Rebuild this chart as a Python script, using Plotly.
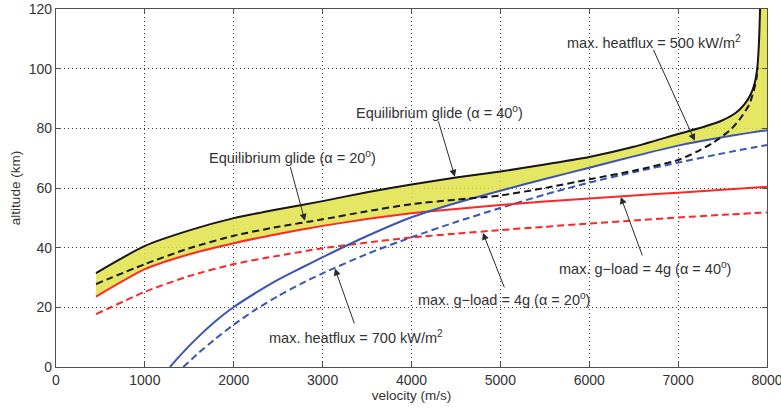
import numpy as np
import plotly.graph_objects as go

# ---------------- data ----------------
v_grid = [450, 1000, 1500, 2000, 2500, 3000, 3500, 4000, 4500, 5000,
          5500, 6000, 6500, 7000, 7500, 8000]

# max. g-load = 4g (alpha = 40 deg)  -- red solid
gload40 = [23.6, 32.8, 37.8, 41.5, 44.6, 47.3, 49.6, 51.5, 53.0, 54.3,
           55.5, 56.5, 57.5, 58.4, 59.4, 60.4]
# max. g-load = 4g (alpha = 20 deg)  -- red dashed
gload20 = [17.7, 25.2, 30.5, 34.5, 37.3, 39.8, 41.7, 43.4, 44.7, 45.9,
           47.0, 48.1, 49.1, 50.1, 51.0, 51.8]

# equilibrium glide (alpha = 40 deg) -- black solid
eq40_v = [450, 1000, 1500, 2000, 2500, 3000, 3500, 4000, 4500, 5000, 5500,
          6000, 6500, 7000, 7300, 7500, 7650, 7750, 7820, 7860, 7890, 7905,
          7915, 7922]
eq40 = [31.5, 40.6, 45.8, 49.9, 52.9, 55.6, 58.6, 61.2, 63.5, 65.5, 67.9,
        70.4, 73.8, 78.1, 80.6, 82.7, 85.2, 88.2, 91.6, 95.0, 100.0, 106.0,
        113.0, 120.0]

# equilibrium glide (alpha = 20 deg) -- black dashed
eq20_v = [450, 1000, 1500, 2000, 2500, 3000, 3500, 4000, 4500, 5000, 5500,
          6000, 6500, 7000, 7200, 7400, 7600, 7700, 7800, 7850, 7880, 7895]
eq20 = [27.8, 34.5, 39.8, 44.0, 47.0, 49.5, 52.2, 54.6, 56.1, 57.5, 60.0,
        62.9, 65.8, 69.4, 72.0, 75.3, 79.8, 83.3, 88.0, 92.5, 96.5, 100.5]

# max. heatflux = 500 kW/m2 -- blue solid
hf500_v = [1282, 1400, 1600, 1800, 2000, 2250, 2500, 2750, 3000, 3500, 4000,
           4500, 5000, 5500, 6000, 6500, 7000, 7500, 8000]
hf500 = [0.0, 4.0, 10.1, 15.5, 20.1, 24.9, 29.3, 33.1, 36.8, 43.9, 50.2,
         55.0, 59.1, 63.0, 66.8, 70.6, 74.2, 77.0, 79.4]

# max. heatflux = 700 kW/m2 -- blue dashed
hf700_v = [1432, 1600, 1800, 2000, 2250, 2500, 2750, 3000, 3500, 4000,
           4500, 5000, 5500, 6000, 6500, 7000, 7500, 8000]
hf700 = [0.0, 4.6, 9.6, 14.2, 19.3, 23.8, 27.8, 31.4, 37.9, 43.5,
         48.6, 53.3, 57.8, 61.8, 65.3, 68.5, 71.6, 74.4]

x_ticks = [0, 1000, 2000, 3000, 4000, 5000, 6000, 7000, 8000]
y_ticks = [0, 20, 40, 60, 80, 100, 120]

# ---------------- styles ----------------
RED = "#FF2626"
BLUE = "#3A55B4"
BLACK = "#151515"
FILL = "rgba(226,226,76,0.86)"
TXT = "#333333"
FONT = "Liberation Sans, Arial, sans-serif"
DASH = "7px,4px"

# ---------------- corridor fill (between eq-glide 40 and max(g-load 40, heatflux 500)) ----
rv, ra = np.array(v_grid, float), np.array(gload40, float)
bv, ba = np.array(hf500_v, float), np.array(hf500, float)
red_at_b = np.interp(bv, rv, ra)
d = ba - red_at_b
i = int(np.where((d[:-1] < 0) & (d[1:] >= 0))[0][0])
t = d[i] / (d[i] - d[i + 1])
vc = bv[i] + t * (bv[i + 1] - bv[i])
ac = red_at_b[i] + t * (red_at_b[i + 1] - red_at_b[i])
low_v = list(rv[rv < vc]) + [vc] + list(bv[bv > vc])
low_a = list(ra[rv < vc]) + [ac] + list(ba[bv > vc])
up_v = list(eq40_v) + [8000]
up_a = [min(a, 120) for a in eq40] + [120]
poly_v = up_v + low_v[::-1]
poly_a = up_a + low_a[::-1]

fig = go.Figure()
fig.add_trace(go.Scatter(x=poly_v, y=poly_a, fill="toself", fillcolor=FILL,
                         line=dict(width=0), mode="lines", hoverinfo="skip",
                         showlegend=False))

def line(xv, yv, color, dash=None):
    fig.add_trace(go.Scatter(x=xv, y=yv, mode="lines", showlegend=False,
                             line=dict(color=color, width=2, dash=dash,
                                       shape="spline", smoothing=0.6)))

line(v_grid, gload20, RED, DASH)
line(hf700_v, hf700, BLUE, DASH)
line(v_grid, gload40, RED)
line(hf500_v, hf500, BLUE)
line(eq20_v, eq20, BLACK, DASH)
line(eq40_v, eq40, BLACK)

# ---------------- annotations ----------------
labels = [
    ("Equilibrium glide (α = 40<sup>o</sup>)", 4319, 85.6, 4297, 82.9, 4488, 63.8),
    ("Equilibrium glide (α = 20<sup>o</sup>)", 2666, 70.5, 2632, 67.5, 2801, 49.0),
    ("max. heatflux = 500 kW/m<sup>2</sup>", 6732, 108.8, 6715, 106.8, 7188, 75.8),
    ("max. g−load = 4g (α = 40<sup>o</sup>)", 6625, 33.2, 6603, 36.9, 6355, 57.0),
    ("max. g−load = 4g (α = 20<sup>o</sup>)", 5045, 22.8, 5051, 26.2, 4803, 45.0),
    ("max. heatflux = 700 kW/m<sup>2</sup>", 3380, 10.0, 3363, 14.1, 3138, 33.0),
]
for txt, tx, ty, axv, ayv, hx, hy in labels:
    fig.add_annotation(x=tx, y=ty, text=txt, showarrow=False,
                       font=dict(family=FONT, size=14.5, color=TXT))
    fig.add_annotation(x=hx, y=hy, ax=axv, ay=ayv, axref="x", ayref="y",
                       text="", showarrow=True, arrowhead=2, arrowsize=1.4,
                       arrowwidth=1, arrowcolor="#2a2a2a", standoff=0)

axis_common = dict(showline=True, linecolor="#505050", linewidth=1.3,
                   mirror="ticks", ticks="inside", ticklen=5,
                   tickcolor="#505050", showgrid=True, gridcolor="#3a3a3a",
                   gridwidth=1, griddash="1.2px,2.8px", zeroline=False,
                   ticklabeloverflow="allow", automargin=False,
                   tickfont=dict(family=FONT, size=14, color="#333333"))

fig.update_xaxes(range=[0, 8000], tickvals=x_ticks,
                 ticktext=[str(v) for v in x_ticks],
                 title=dict(text="velocity (m/s)", standoff=0,
                            font=dict(family=FONT, size=13.5, color=TXT)),
                 **axis_common)
fig.update_yaxes(range=[0, 120], tickvals=y_ticks,
                 ticktext=[str(v) for v in y_ticks],
                 title=dict(text="altitude (km)", standoff=4,
                            font=dict(family=FONT, size=13.5, color=TXT)),
                 **axis_common)

fig.update_layout(width=781, height=408, plot_bgcolor="white",
                  paper_bgcolor="white",
                  margin=dict(l=56, r=14, t=9, b=41), showlegend=False)

fig.write_html("out.html", config={"displayModeBar": False},
               post_script="document.body.style.margin='0px';"
                           "document.body.style.overflow='hidden';")
